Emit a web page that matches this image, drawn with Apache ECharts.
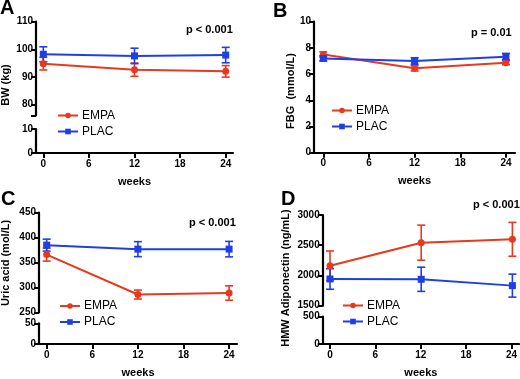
<!DOCTYPE html>
<html><head><meta charset="utf-8">
<script src="https://cdn.jsdelivr.net/npm/echarts@6/dist/echarts.min.js"></script>
<style>html,body{margin:0;padding:0;background:#fff}#c{width:520px;height:379px}</style>
</head><body><div id="c"></div>
<script>
// ---- data ----
const weeks = [0, 12, 24];
const xTicks = [0, 6, 12, 18, 24];
const seriesNames = ['EMPA', 'PLAC'];

const bwEmpa = [94.8, 92.6, 92.0];
const bwEmpaErr = [2.3, 2.4, 2.1];
const bwPlac = [98.2, 97.6, 97.9];
const bwPlacErr = [2.7, 2.8, 2.8];

const fbgEmpa = [7.5, 6.44, 6.87];
const fbgEmpaErr = [0.2, 0.2, 0.15];
const fbgPlac = [7.2, 7.0, 7.33];
const fbgPlacErr = [0.2, 0.25, 0.25];

const uaEmpa = [366, 286, 289];
const uaEmpaErr = [13, 9, 14.5];
const uaPlac = [385, 377, 377];
const uaPlacErr = [12, 15, 15.5];

const adipEmpa = [2160, 2542, 2598];
const adipEmpaErr = [245, 290, 280];
const adipPlac = [1942, 1937, 1832];
const adipPlacErr = [170, 200, 190];

const bwTopTicks = [76, 80, 90, 100, 110];
const bwTopLabels = [80, 90, 100, 110];
const bwBotTicks = [0, 10];
const fbgTicks = [0, 2, 4, 6, 8, 10];
const uaTopTicks = [250, 300, 350, 400, 450];
const uaBotTicks = [0, 50];
const adipTopTicks = [1500, 2000, 2500, 3000];
const adipBotTicks = [0, 500];

const panelLetters = ['A', 'B', 'C', 'D'];
const pTexts = ['p < 0.001', 'p = 0.01', 'p < 0.001', 'p < 0.001'];
const yTitles = ['BW (kg)', 'FBG  (mmol/L)', 'Uric acid (mol/L)', 'HMW Adiponectin (ng/mL)'];
const xTitle = 'weeks';

// ---- styles ----
const RED = '#e8391f';
const BLUE = '#1f3fe6';
const COLORS = {EMPA: RED, PLAC: BLUE};
const SYMBOLS = {EMPA: 'circle', PLAC: 'rect'};
const FF = '"Liberation Sans", Arial, Helvetica, sans-serif';

const grids = [
  {left: 36, top: 21.7, width: 197, height: 93.8},    // 0 A top
  {left: 36, top: 129, width: 197, height: 24},       // 1 A bottom
  {left: 314, top: 21.7, width: 201, height: 131},    // 2 B
  {left: 39, top: 212.7, width: 198, height: 99.8},   // 3 C top
  {left: 39, top: 323.3, width: 198, height: 21.7},   // 4 C bottom
  {left: 322.7, top: 215, width: 197.3, height: 90.7},// 5 D top
  {left: 322.7, top: 316.7, width: 197.3, height: 30} // 6 D bottom
];

function xAx(gi, min, max, show, withName) {
  return {
    type: 'value', gridIndex: gi, min: min, max: max, show: true,
    axisLine: {show: show, onZero: false, lineStyle: {color: '#000', width: 2.2}},
    axisTick: {show: show, customValues: xTicks, length: 5, lineStyle: {color: '#000', width: 2}},
    axisLabel: {show: show, customValues: xTicks, color: '#000', fontWeight: 'bold', fontSize: 10, fontFamily: FF, margin: 6,
      formatter: v => String(v)},
    splitLine: {show: false},
    name: withName ? xTitle : '', nameLocation: 'middle', nameGap: 23,
    nameTextStyle: {color: '#000', fontWeight: 'bold', fontSize: 11, fontFamily: FF}
  };
}
function yAx(gi, min, max, ticks, labels) {
  return {
    type: 'value', gridIndex: gi, min: min, max: max,
    axisLine: {show: true, onZero: false, lineStyle: {color: '#000', width: 2.2}},
    axisTick: {show: true, customValues: ticks, length: 5, lineStyle: {color: '#000', width: 2}},
    axisLabel: {show: true, customValues: labels, color: '#000', fontWeight: 'bold', fontSize: 10, fontFamily: FF, margin: 3,
      formatter: v => String(v)},
    splitLine: {show: false}
  };
}

const xAxes = [
  xAx(0, -0.96, 24.96, false, false),
  xAx(1, -0.96, 24.96, true, true),
  xAx(2, -1.22, 25.19, true, true),
  xAx(3, -1.01, 25.04, false, false),
  xAx(4, -1.01, 25.04, true, true),
  xAx(5, -0.96, 25.0, false, false),
  xAx(6, -0.96, 25.0, true, true)
];
const yAxes = [
  yAx(0, 76, 110, bwTopTicks, bwTopLabels),
  yAx(1, 0, 10, bwBotTicks, bwBotTicks),
  yAx(2, 0, 10, fbgTicks, fbgTicks),
  yAx(3, 250, 450, uaTopTicks, uaTopTicks),
  yAx(4, 0, 50, uaBotTicks, uaBotTicks),
  yAx(5, 1500, 3000, adipTopTicks, adipTopTicks),
  yAx(6, 0, 500, adipBotTicks, adipBotTicks)
];

function errSeries(name, axisIdx, vals, errs) {
  const color = COLORS[name];
  return {
    name: name + ' SD', type: 'custom', xAxisIndex: axisIdx, yAxisIndex: axisIdx, z: 2,
    data: weeks.map((w, i) => [w, vals[i], errs[i]]),
    renderItem: function (params, api) {
      const x = api.value(0), y = api.value(1), e = api.value(2);
      const t = api.coord([x, y + e]), b = api.coord([x, y - e]);
      const w = 4;
      const st = {stroke: color, lineWidth: 1.6};
      return {type: 'group', children: [
        {type: 'line', shape: {x1: t[0], y1: t[1], x2: b[0], y2: b[1]}, style: st},
        {type: 'line', shape: {x1: t[0] - w, y1: t[1], x2: t[0] + w, y2: t[1]}, style: st},
        {type: 'line', shape: {x1: b[0] - w, y1: b[1], x2: b[0] + w, y2: b[1]}, style: st}
      ]};
    }
  };
}
function lineSeries(name, axisIdx, vals) {
  const color = COLORS[name];
  return {
    name: name, type: 'line', xAxisIndex: axisIdx, yAxisIndex: axisIdx, z: 3,
    data: weeks.map((w, i) => [w, vals[i]]),
    symbol: SYMBOLS[name], symbolSize: 7, showSymbol: true,
    lineStyle: {color: color, width: 2}, itemStyle: {color: color},
    emphasis: {disabled: true}, animation: false
  };
}

const series = [
  lineSeries('EMPA', 0, bwEmpa), lineSeries('PLAC', 0, bwPlac),
  errSeries('EMPA', 0, bwEmpa, bwEmpaErr), errSeries('PLAC', 0, bwPlac, bwPlacErr),
  lineSeries('EMPA', 2, fbgEmpa), lineSeries('PLAC', 2, fbgPlac),
  errSeries('EMPA', 2, fbgEmpa, fbgEmpaErr), errSeries('PLAC', 2, fbgPlac, fbgPlacErr),
  lineSeries('EMPA', 3, uaEmpa), lineSeries('PLAC', 3, uaPlac),
  errSeries('EMPA', 3, uaEmpa, uaEmpaErr), errSeries('PLAC', 3, uaPlac, uaPlacErr),
  lineSeries('EMPA', 5, adipEmpa), lineSeries('PLAC', 5, adipPlac),
  errSeries('EMPA', 5, adipEmpa, adipEmpaErr), errSeries('PLAC', 5, adipPlac, adipPlacErr)
];

function legendAt(left, top) {
  return {
    data: seriesNames.slice(),
    orient: 'vertical', left: left, top: top, padding: 0,
    itemWidth: 20, itemHeight: 7, itemGap: 4, selectedMode: false,
    textStyle: {color: '#000', fontSize: 12, fontFamily: FF, padding: [0, 0, 0, -1]}
  };
}
const legends = [legendAt(57, 109.5), legendAt(331, 104.5), legendAt(59, 300), legendAt(342, 299.5)];

const letterPos = [[0, -2], [273, 1], [1, 189], [281, 189]];
const pPos = [[186, 30], [471, 33], [189, 223], [473, 205]];
const yTitlePos = [[6, 85], [291, 91], [6, 263], [286, 278]];

const graphics = [];
panelLetters.forEach((t, i) => graphics.push({type: 'text', left: letterPos[i][0], top: letterPos[i][1],
  style: {text: t, font: 'bold 20px ' + FF, fill: '#000'}}));
pTexts.forEach((t, i) => graphics.push({type: 'text', x: pPos[i][0], y: pPos[i][1],
  style: {text: t, font: 'bold 11px ' + FF, fill: '#000', verticalAlign: 'middle', align: 'left'}}));
yTitles.forEach((t, i) => graphics.push({type: 'text', x: yTitlePos[i][0], y: yTitlePos[i][1], rotation: Math.PI / 2,
  style: {text: t, font: 'bold 11px ' + FF, fill: '#000', verticalAlign: 'middle', align: 'center'}}));

const chart = echarts.init(document.getElementById('c'), null, {renderer: 'canvas'});
chart.setOption({
  animation: false,
  backgroundColor: '#fff',
  grid: grids,
  xAxis: xAxes,
  yAxis: yAxes,
  legend: legends,
  series: series,
  graphic: graphics
});
</script></body></html>
